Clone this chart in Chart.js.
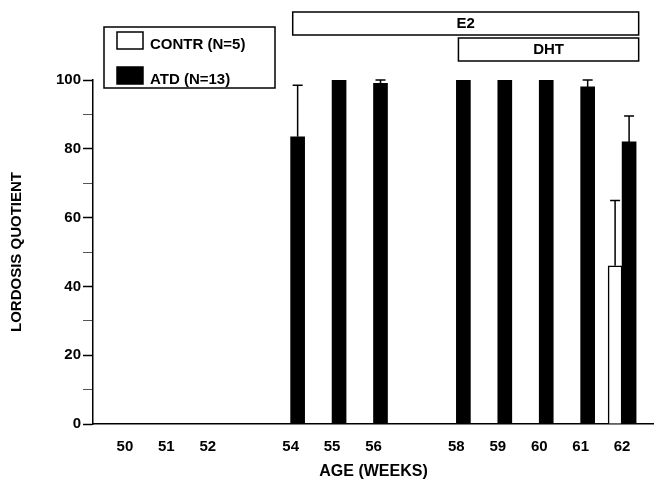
<!DOCTYPE html>
<html>
<head>
<meta charset="utf-8">
<title>Lordosis quotient</title>
<script src="https://cdn.jsdelivr.net/npm/chart.js@4.4.0/dist/chart.umd.min.js"></script>
<style>
    body { margin: 0; background: #fff; }
    canvas { display: block; }
</style>
</head>
<body>
<canvas id="lqChart" width="654" height="480"></canvas>
<script>
const weeks = [50, 51, 52, 54, 55, 56, 58, 59, 60, 61, 62];
const contrLQ = [0, 0, 0, 0, 0, 0, 0, 0, 0, 0, 46];
const contrErr = [0, 0, 0, 0, 0, 0, 0, 0, 0, 0, 19];
const atdLQ = [0, 0, 0, 83.5, 100, 99, 100, 100, 100, 98, 82];
const atdErr = [0, 0, 0, 15, 0, 1, 0, 0, 0, 2, 7.5];
const yLabels = [0, 20, 40, 60, 80, 100];

// hormone treatment periods (in weeks)
const treatNames = ['E2', 'DHT'];
const treatStart = [54.05, 58.05];
const treatEnd = [62.4, 62.4];

const FONT = '"Liberation Sans", Arial, sans-serif';

let ctx = document.getElementById('lqChart');

function points(values) {
    return weeks.map((w, i) => ({ x: w, y: values[i] }));
}

// one-sided SEM bars on top of each bar
const errorBars = {
    id: 'errorBars',
    afterDatasetsDraw(chart) {
        const c = chart.ctx;
        const y = chart.scales.y;
        c.save();
        c.strokeStyle = '#000';
        c.lineWidth = 1.5;
        chart.data.datasets.forEach((ds, d) => {
            const meta = chart.getDatasetMeta(d);
            ds.errors.forEach((err, i) => {
                if (!err) return;
                const bar = meta.data[i];
                const top = y.getPixelForValue(ds.data[i].y + err);
                c.beginPath();
                c.moveTo(bar.x, bar.y);
                c.lineTo(bar.x, top);
                c.moveTo(bar.x - 5, top);
                c.lineTo(bar.x + 5, top);
                c.stroke();
            });
        });
        c.restore();
    }
};

// treatment boxes above the plot and the framed legend
const panels = {
    id: 'panels',
    afterDraw(chart) {
        const c = chart.ctx;
        const x = chart.scales.x;
        c.save();
        c.lineWidth = 1.5;
        c.strokeStyle = '#000';
        c.font = 'bold 15px ' + FONT;
        c.textBaseline = 'middle';

        treatNames.forEach((name, i) => {
            const left = x.getPixelForValue(treatStart[i]);
            const right = x.getPixelForValue(treatEnd[i]);
            const top = 12 + i * 26;
            c.strokeRect(left, top, right - left, 23);
            c.fillStyle = '#000';
            c.textAlign = 'center';
            c.fillText(name, (left + right) / 2, top + 12);
        });

        c.strokeRect(104, 27, 171, 61);
        chart.data.datasets.forEach((ds, i) => {
            const top = 32 + i * 35;
            c.fillStyle = ds.backgroundColor;
            c.fillRect(117, top, 26, 17);
            c.strokeRect(117, top, 26, 17);
            c.fillStyle = '#000';
            c.textAlign = 'left';
            c.fillText(ds.label, 150, top + 13);
        });
        c.restore();
    }
};

new Chart(ctx, {
    type: 'bar',
    data: {
        datasets: [{
            label: 'CONTR (N=5)',
            data: points(contrLQ),
            errors: contrErr,
            backgroundColor: '#fff',
            borderColor: '#000',
            borderWidth: 1.5
        }, {
            label: 'ATD (N=13)',
            data: points(atdLQ),
            errors: atdErr,
            backgroundColor: '#000',
            borderColor: '#000',
            borderWidth: 0
        }]
    },
    options: {
        responsive: false,
        animation: false,
        devicePixelRatio: 1,
        barThickness: 14,
        layout: { padding: { top: 80, left: 0, right: 0, bottom: 0 } },
        plugins: {
            legend: { display: false },
            tooltip: { enabled: false }
        },
        scales: {
            x: {
                type: 'linear',
                offset: false,
                min: 49.23,
                max: 62.77,
                afterBuildTicks: (s) => { s.ticks = weeks.map(w => ({ value: w })); },
                afterFit: (s) => { s.height = 56; },
                grid: { display: false, drawTicks: false },
                border: { color: '#000', width: 1.5 },
                ticks: {
                    autoSkip: false,
                    maxRotation: 0,
                    padding: 14,
                    color: '#000',
                    font: { family: FONT, size: 15, weight: 'bold' },
                    callback: (v) => String(v)
                },
                title: {
                    display: true,
                    text: 'AGE (WEEKS)',
                    color: '#000',
                    padding: { top: 0, bottom: 0 },
                    font: { family: FONT, size: 16, weight: 'bold', lineHeight: 1 }
                }
            },
            y: {
                min: 0,
                max: 100,
                afterBuildTicks: (s) => {
                    s.ticks = [];
                    for (let v = 0; v <= 100; v += 10) s.ticks.push({ value: v });
                },
                afterFit: (s) => { s.width = 93; },
                grid: {
                    drawOnChartArea: false,
                    tickLength: 10,
                    tickColor: (c) => yLabels.includes(c.tick.value) ? '#000' : '#555',
                    tickWidth: (c) => yLabels.includes(c.tick.value) ? 1.5 : 1
                },
                border: { color: '#000', width: 1.5 },
                ticks: {
                    padding: 2,
                    color: '#000',
                    font: { family: FONT, size: 15, weight: 'bold' },
                    callback: (v) => yLabels.includes(v) ? String(v) : ''
                },
                title: {
                    display: true,
                    text: 'LORDOSIS QUOTIENT',
                    color: '#000',
                    padding: { top: 8, bottom: 0 },
                    font: { family: FONT, size: 15, weight: 'bold' }
                }
            }
        }
    },
    plugins: [errorBars, panels]
});
</script>
</body>
</html>
